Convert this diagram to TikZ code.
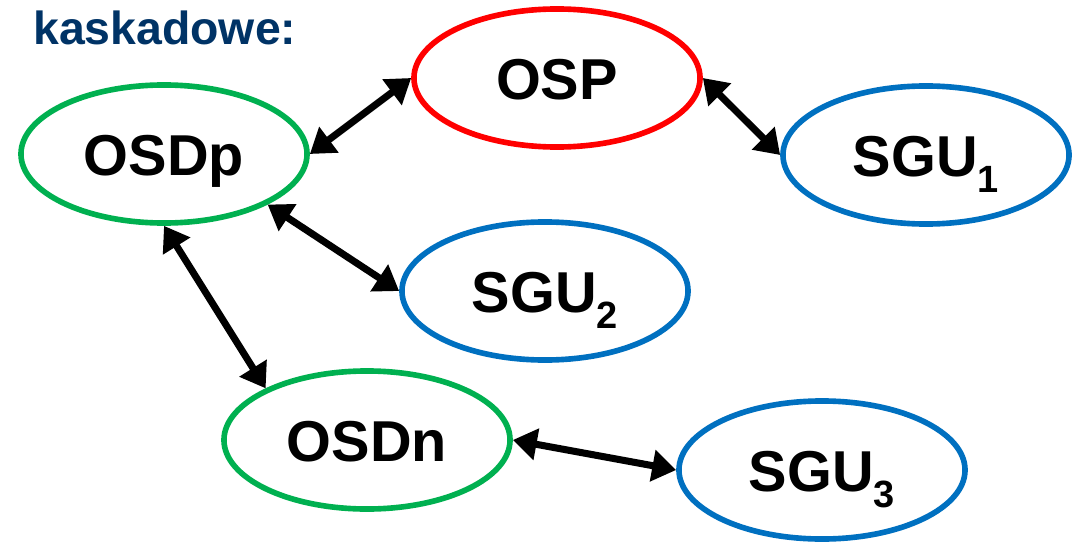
\documentclass[tikz,border=0pt]{standalone}
\usepackage{fontspec}
\setmainfont{Liberation Sans}
\usetikzlibrary{arrows.meta,shapes.geometric}

\definecolor{titleblue}{RGB}{0,51,102}
\definecolor{osdgreen}{RGB}{0,176,80}
\definecolor{sgublue}{RGB}{0,112,192}
\definecolor{ospred}{RGB}{255,0,0}

\newcommand{\idx}[1]{\raisebox{-12pt}{\fontsize{27}{27}\selectfont #1}}

\tikzset{
  unit/.style={ellipse, draw=#1, line width=4pt, minimum width=7.15cm,
    minimum height=3.45cm, inner sep=0pt, text height=30pt, text depth=0pt,
    font=\fontsize{41}{41}\selectfont\bfseries},
  link/.style={line width=5pt, {Triangle[length=17pt,width=22pt]}-{Triangle[length=17pt,width=22pt]}},
}

\begin{document}
\begin{tikzpicture}[x=0.025cm, y=-0.025cm]
  \useasboundingbox (0,0) rectangle (1084,545);

  % Title
  \node[anchor=base west, inner sep=0pt, text=titleblue,
        font=\fontsize{33}{33}\selectfont\bfseries] (title) at (33,45) {kaskadowe:};

  % Units
  \node[unit=ospred]   (osp)  at (557,78)  {OSP};
  \node[unit=osdgreen] (osdp) at (164,154) {OSDp};
  \node[unit=sgublue]  (sgua) at (926,155) {SGU\idx{1}};
  \node[unit=sgublue]  (sgub) at (545,291) {SGU\idx{2}};
  \node[unit=osdgreen] (osdn) at (367,440) {OSDn};
  \node[unit=sgublue]  (sguc) at (822,470) {SGU\idx{3}};

  % Links
  \draw[link] (osdp.east) -- (osp.west);
  \draw[link] (osp.east) -- (sgua.west);
  \draw[link] (osdp.-26) -- (sgub.west);
  \draw[link] (osdp.south) -- (osdn.153);
  \draw[link] (osdn.east) -- (sguc.west);
\end{tikzpicture}
\end{document}
